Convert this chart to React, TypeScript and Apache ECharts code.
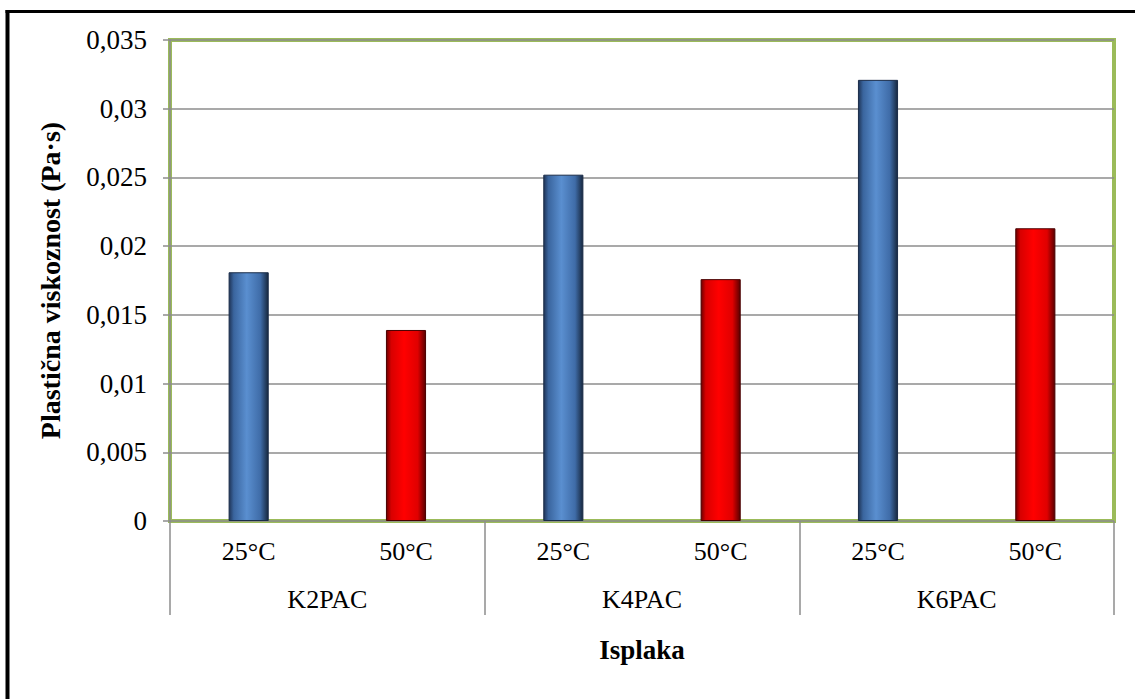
import React, { useEffect, useRef } from "react";
import * as echarts from "echarts";

const temperatures = ["25°C", "50°C", "25°C", "50°C", "25°C", "50°C"];
const fluids = ["K2PAC", "K4PAC", "K6PAC"];
const viscosity = [0.0181, 0.0139, 0.0252, 0.0176, 0.0321, 0.0213];
const yTicks = { min: 0, max: 0.035, interval: 0.005 };

const FONT = "'Liberation Serif', 'Times New Roman', serif";

const blueGrad = new echarts.graphic.LinearGradient(0, 0, 1, 0, [
  { offset: 0, color: "#1f3558" },
  { offset: 0.12, color: "#3a659e" },
  { offset: 0.45, color: "#5a8fd0" },
  { offset: 0.8, color: "#3f6ca8" },
  { offset: 1, color: "#17283f" },
]);
const redGrad = new echarts.graphic.LinearGradient(0, 0, 1, 0, [
  { offset: 0, color: "#6e0000" },
  { offset: 0.12, color: "#d80000" },
  { offset: 0.45, color: "#ff0000" },
  { offset: 0.8, color: "#e00000" },
  { offset: 1, color: "#5a0000" },
]);

export default function App() {
  const ref = useRef<HTMLDivElement>(null);
  useEffect(() => {
    if (!ref.current) return;
    const chart = echarts.init(ref.current, null, { renderer: "svg" });
    const fmt = (v: number) => String(Number(v.toFixed(3))).replace(".", ",");
    chart.setOption({
      animation: false,
      backgroundColor: "#ffffff",
      grid: {
        left: 170,
        right: 21,
        top: 40,
        bottom: 178,
        show: true,
        borderColor: "#9BBB59",
        borderWidth: 4,
        containLabel: false,
      },
      xAxis: [
        {
          type: "category",
          data: temperatures,
          position: "bottom",
          axisLine: { show: false },
          axisTick: { show: false },
          axisLabel: { color: "#000", fontFamily: FONT, fontSize: 26, margin: 17, interval: 0 },
        },
        {
          type: "category",
          data: fluids,
          position: "bottom",
          axisLine: { show: false },
          axisTick: { show: true, length: 94, lineStyle: { color: "#8c8c8c", width: 1.5 }, interval: 0 },
          axisLabel: { color: "#000", fontFamily: FONT, fontSize: 26, margin: 65, interval: 0 },
          name: "Isplaka",
          nameLocation: "middle",
          nameGap: 115,
          nameTextStyle: { color: "#000", fontFamily: FONT, fontSize: 27, fontWeight: "bold" },
        },
      ],
      yAxis: {
        type: "value",
        min: yTicks.min,
        max: yTicks.max,
        interval: yTicks.interval,
        axisLine: { show: true, lineStyle: { color: "#8c8c8c", width: 1.5 } },
        axisTick: { show: true, length: 7, lineStyle: { color: "#8c8c8c", width: 1.5 } },
        splitLine: { show: true, lineStyle: { color: "#8c8c8c", width: 1.5 } },
        axisLabel: { color: "#000", fontFamily: FONT, fontSize: 27, margin: 23, formatter: fmt },
        name: "Plastična viskoznost (Pa·s)",
        nameLocation: "middle",
        nameGap: 106,
        nameRotate: 90,
        nameTextStyle: { color: "#000", fontFamily: FONT, fontSize: 28, fontWeight: "bold" },
      },
      series: [
        {
          type: "bar",
          xAxisIndex: 0,
          barWidth: "25.5%",
          data: viscosity.map((v, i) => ({
            value: v,
            itemStyle: {
              color: i % 2 === 0 ? blueGrad : redGrad,
              borderColor: i % 2 === 0 ? "#1a2c48" : "#4a0000",
              borderWidth: 1,
            },
          })),
        },
      ],
      graphic: [
        { type: "line", shape: { x1: 7.5, y1: 10, x2: 7.5, y2: 699 }, style: { stroke: "#000", lineWidth: 4 } },
        { type: "line", shape: { x1: 5.5, y1: 11.5, x2: 1135, y2: 11.5 }, style: { stroke: "#000", lineWidth: 3 } },
      ],
    });
    return () => chart.dispose();
  }, []);
  return (
    <div
      ref={ref}
      style={{ position: "fixed", left: 0, top: 0, width: 1135, height: 699 }}
    />
  );
}
